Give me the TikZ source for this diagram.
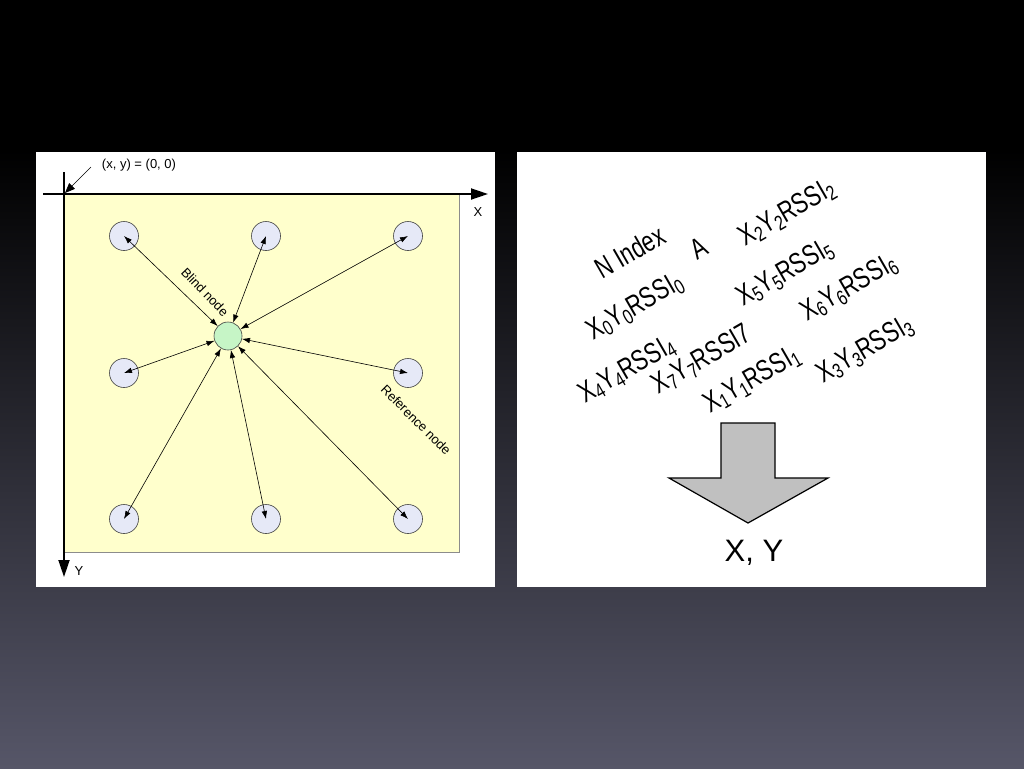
\documentclass[tikz,border=0pt]{standalone}
\usepackage{fontspec}
\setmainfont{Liberation Sans}
\usetikzlibrary{arrows.meta}
\newcommand\lowsub[1]{\raisebox{-0.28ex}{\scalebox{0.72}{#1}}}
\newcommand\narrowtxt[1]{\scalebox{0.75}[1]{#1}}
\definecolor{bgbot}{RGB}{86,86,104}
\definecolor{yellowbg}{RGB}{255,255,204}
\definecolor{refblue}{RGB}{230,233,247}
\definecolor{blindgreen}{RGB}{198,245,198}
\definecolor{arrowgray}{RGB}{192,192,192}
\tikzset{
  refnode/.style={circle, draw=black!75, fill=refblue, line width=0.6pt, minimum size=29pt, inner sep=0pt},
  blindnode/.style={circle, draw=black!75, fill=blindgreen, line width=0.6pt, minimum size=28pt, inner sep=0pt},
  link/.style={line width=0.6pt, {Latex[length=8pt,width=5.5pt]}-{Latex[length=8pt,width=5.5pt]}},
  axis/.style={line width=1.8pt, -{Triangle[length=17pt,width=11pt]}},
  smalllabel/.style={font=\fontsize{13}{15}\selectfont, inner sep=0pt},
  rowtext/.style={font=\fontsize{29}{32}\selectfont, rotate=30, inner sep=0pt},
}
\begin{document}
\begin{tikzpicture}[x=1pt,y=-1pt]
\useasboundingbox (0,0) rectangle (1024,768);
\fill[black] (0,0) rectangle (1024,151);
\shade[top color=black, bottom color=bgbot] (0,150) rectangle (1024,768);
% panels
\fill[white] (36,152) rectangle (495,587);
\fill[white] (517,152) rectangle (986,587);
% left panel
\draw[black!45, fill=yellowbg, line width=0.6pt] (64,194) rectangle (459,552);
\coordinate (xstart) at (43,194);
\coordinate (xend) at (488,194);
\coordinate (ystart) at (64,172);
\coordinate (yend) at (64,577);
\draw[axis] (xstart) -- (xend);
\draw[axis] (ystart) -- (yend);
\node[smalllabel] (xlab) at (478,212) {X};
\node[smalllabel] (ylab) at (79,571) {Y};
\node[smalllabel] (origlab) at (139,165) {(x, y) = (0, 0)};
\coordinate (origfrom) at (91,167);
\coordinate (origin) at (65,193);
\draw[line width=0.7pt, -{Triangle[length=10pt,width=8pt]}] (origfrom) -- (origin);
% nodes
\node[refnode] (r11) at (124,236) {};
\node[refnode] (r12) at (266,236) {};
\node[refnode] (r13) at (408,236) {};
\node[refnode] (r21) at (124,373) {};
\node[refnode] (r23) at (408,373) {};
\node[refnode] (r31) at (124,519) {};
\node[refnode] (r32) at (266,519) {};
\node[refnode] (r33) at (408,519) {};
\node[blindnode] (b) at (228,336) {};
\foreach \r in {r11,r12,r13,r21,r23,r31,r32,r33}{
  \draw[link] (b) -- (\r.center);
}
\node[smalllabel, rotate=-46] (blindlab) at (205,292) {Blind node};
\node[smalllabel, rotate=-45] (reflab) at (416,420) {Reference node};
% right panel
\node[rowtext] (nidx) at (630,252) {\narrowtxt{N Index}};
\node[rowtext] (aa) at (699,248) {\narrowtxt{A}};
\node[rowtext] (t2) at (787,213) {\narrowtxt{X\lowsub{2}Y\lowsub{2}RSSI\lowsub{2}}};
\node[rowtext] (t0) at (635,307) {\narrowtxt{X\lowsub{0}Y\lowsub{0}RSSI\lowsub{0}}};
\node[rowtext] (t5) at (785,273) {\narrowtxt{X\lowsub{5}Y\lowsub{5}RSSI\lowsub{5}}};
\node[rowtext] (t6) at (849,288) {\narrowtxt{X\lowsub{6}Y\lowsub{6}RSSI\lowsub{6}}};
\node[rowtext] (t4) at (627,370) {\narrowtxt{X\lowsub{4}Y\lowsub{4}RSSI\lowsub{4}}};
\node[rowtext] (t7) at (702,360) {\narrowtxt{X\lowsub{7}Y\lowsub{7}RSSI7}};
\node[rowtext] (t1) at (752,380) {\narrowtxt{X\lowsub{1}Y\lowsub{1}RSSI\lowsub{1}}};
\node[rowtext] (t3) at (865,350) {\narrowtxt{X\lowsub{3}Y\lowsub{3}RSSI\lowsub{3}}};
% block arrow
\draw[fill=arrowgray, draw=black, line width=1.2pt, line join=miter]
  (721,423) -- (775,423) -- (775,478) -- (828,478) -- (748,523) -- (669,478) -- (721,478) -- cycle;
\node[font=\fontsize{31}{34}\selectfont, inner sep=0pt] (xy) at (754,553) {X, Y};
\end{tikzpicture}
\end{document}
